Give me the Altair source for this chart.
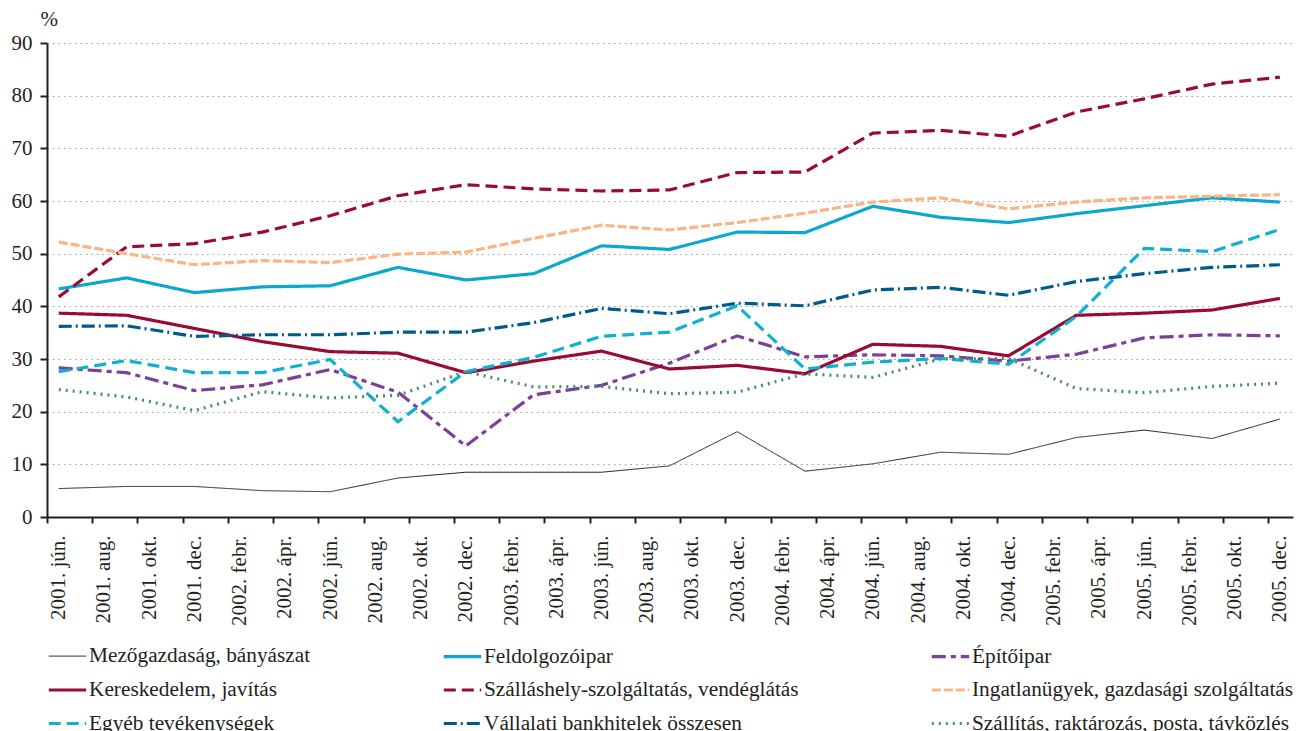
import json
import altair as alt
import pandas as pd

# ---- data ----
x_labels = ["2001. jún.", "2001. aug.", "2001. okt.", "2001. dec.", "2002. febr.", "2002. ápr.",
            "2002. jún.", "2002. aug.", "2002. okt.", "2002. dec.", "2003. febr.", "2003. ápr.",
            "2003. jún.", "2003. aug.", "2003. okt.", "2003. dec.", "2004. febr.", "2004. ápr.",
            "2004. jún.", "2004. aug.", "2004. okt.", "2004. dec.", "2005. febr.", "2005. ápr.",
            "2005. jún.", "2005. febr.", "2005. okt.", "2005. dec."]

# quarterly observations, 2001 Q2 .. 2005 Q4 (months after 2001 June)
quarter_months = [0, 3, 6, 9, 12, 15, 18, 21, 24, 27, 30, 33, 36, 39, 42, 45, 48, 51, 54]

series_names = [
    "Mezőgazdaság, bányászat",
    "Feldolgozóipar",
    "Építőipar",
    "Kereskedelem, javítás",
    "Szálláshely-szolgáltatás, vendéglátás",
    "Ingatlanügyek, gazdasági szolgáltatás",
    "Egyéb tevékenységek",
    "Vállalati bankhitelek összesen",
    "Szállítás, raktározás, posta, távközlés",
]

mezo = [5.4, 5.8, 5.8, 5.0, 4.8, 7.4, 8.5, 8.5, 8.5, 9.7, 16.2, 8.7, 10.1, 12.3, 11.9, 15.1, 16.5, 14.9, 18.6]
feld = [43.3, 45.4, 42.6, 43.7, 43.9, 47.4, 45.0, 46.2, 51.5, 50.8, 54.1, 54.0, 59.0, 56.9, 55.9, 57.6, 59.1, 60.6, 59.8]
epito = [28.3, 27.4, 24.0, 25.1, 28.0, 23.7, 13.5, 23.2, 25.0, 29.2, 34.4, 30.4, 30.8, 30.6, 29.6, 30.9, 34.0, 34.6, 34.4]
keresk = [38.7, 38.3, 35.8, 33.3, 31.4, 31.1, 27.4, 29.6, 31.5, 28.1, 28.8, 27.2, 32.8, 32.4, 30.6, 38.3, 38.7, 39.3, 41.5]
szallash = [41.8, 51.3, 51.9, 54.1, 57.2, 61.0, 63.1, 62.3, 61.9, 62.1, 65.4, 65.5, 72.9, 73.4, 72.3, 76.9, 79.4, 82.2, 83.5]
ingatlan = [52.2, 50.0, 47.9, 48.7, 48.3, 49.9, 50.3, 52.9, 55.4, 54.5, 55.9, 57.7, 59.8, 60.6, 58.5, 59.8, 60.6, 60.9, 61.2]
egyeb = [27.6, 29.7, 27.4, 27.4, 29.9, 18.1, 27.6, 30.3, 34.3, 35.1, 40.1, 28.1, 29.4, 30.1, 29.0, 38.1, 51.0, 50.4, 54.6]
vallalati = [36.2, 36.3, 34.3, 34.6, 34.6, 35.1, 35.1, 36.9, 39.6, 38.6, 40.6, 40.1, 43.1, 43.6, 42.1, 44.7, 46.2, 47.4, 47.9]
szallitas = [24.2, 22.8, 20.2, 23.8, 22.6, 23.1, 27.6, 24.7, 24.8, 23.4, 23.7, 27.2, 26.5, 30.0, 30.1, 24.4, 23.6, 24.8, 25.4]

all_values = [mezo, feld, epito, keresk, szallash, ingatlan, egyeb, vallalati, szallitas]

# ---- styles ----
colors = ["#231f20", "#0aa8cf", "#7d3f98", "#9a0a33", "#9a0a33", "#fbb584", "#10b0d3", "#005a8c", "#4a8c6c"]
dashes = [[1, 0], [1, 0], [14, 5, 5, 5], [1, 0], [12, 6], [9, 3], [12, 6], [13, 4, 2, 4], [2, 5]]
widths = [1, 3.2, 3.2, 3.2, 3.2, 3.2, 3.2, 3.2, 3.2]

rows = []
for name, vals in zip(series_names, all_values):
    for m, v in zip(quarter_months, vals):
        rows.append({"series": name, "month": m, "value": v})
df = pd.DataFrame(rows)

label_expr = json.dumps(x_labels, ensure_ascii=False) + "[round(datum.value / 2)]"
FONT = "Liberation Serif, Times New Roman, Times, serif"
INK = "#231f20"

legend = alt.Legend(
    title=None, orient="none", legendX=0, legendY=593, columns=3,
    columnPadding=126, rowPadding=2.5, symbolType="stroke", symbolSize=1400,
    labelFont=FONT, labelFontSize=21.3, labelColor=INK, labelOffset=1,
    labelLimit=0, padding=0, direction="horizontal",
)

chart = alt.Chart(df).mark_line(strokeCap="butt", strokeJoin="miter").encode(
    x=alt.X("month:Q",
            scale=alt.Scale(domain=[-0.52, 54.58], nice=False, zero=False),
            axis=alt.Axis(values=list(range(0, 55, 2)), labelExpr=label_expr,
                          labelAngle=270, labelAlign="right", labelBaseline="middle",
                          tickOffset=-11.8, labelOffset=11.8, labelPadding=12,
                          grid=False, title=None, labelFont=FONT, labelFontSize=21,
                          labelColor=INK, tickSize=6, labelOverlap=False)),
    y=alt.Y("value:Q",
            scale=alt.Scale(domain=[0, 90], nice=False),
            axis=alt.Axis(values=list(range(0, 91, 10)), title="%", titleAngle=0,
                          titleAlign="left", titleBaseline="alphabetic",
                          titleX=-7, titleY=-18, titleFont=FONT, titleFontSize=21,
                          titleFontWeight="normal", titleColor=INK,
                          labelFont=FONT, labelFontSize=21, labelColor=INK,
                          labelPadding=8, tickSize=7,
                          grid=True, gridDash=[1.5, 4], gridColor="#9d9d9d", gridWidth=1)),
    color=alt.Color("series:N", scale=alt.Scale(domain=series_names, range=colors),
                    sort=series_names, legend=legend),
    strokeDash=alt.StrokeDash("series:N", scale=alt.Scale(domain=series_names, range=dashes),
                              sort=series_names, legend=legend),
    strokeWidth=alt.StrokeWidth("series:N",
                                scale=alt.Scale(type="ordinal", domain=series_names, range=widths),
                                sort=series_names, legend=legend),
).properties(
    width=1246, height=474,
    autosize=alt.AutoSizeParams(type="none"),
    padding={"left": 39, "top": 35, "right": 3, "bottom": 224},
).configure_view(stroke=None).configure_axis(
    domainColor=INK, domainWidth=2, tickColor=INK, tickWidth=2,
)

chart.save("out.html", embed_options={"renderer": "svg", "actions": False})
